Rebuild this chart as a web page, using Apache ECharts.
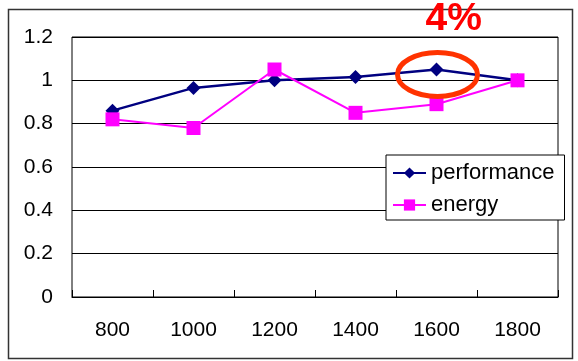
<!DOCTYPE html>
<html>
<head>
<meta charset="utf-8">
<script src="https://cdn.jsdelivr.net/npm/echarts@6/dist/echarts.min.js"></script>
<style>
  html, body { margin: 0; padding: 0; background: #fff; }
  #chart { width: 578px; height: 361px; }
</style>
</head>
<body>
<div id="chart"></div>
<script>
// Clock frequencies (MHz) on the x axis
const frequencies = ['800', '1000', '1200', '1400', '1600', '1800'];
// Normalised performance and energy at each frequency
const performance = [0.86, 0.965, 1.0, 1.015, 1.05, 1.0];
const energy = [0.82, 0.78, 1.05, 0.85, 0.89, 1.0];
// Callout text over the peak performance point
const calloutText = '4%';
const calloutIndex = 4;

const FONT = 'Liberation Sans, Arial, sans-serif';
const chart = echarts.init(document.getElementById('chart'), null, { renderer: 'canvas' });

chart.setOption({
  backgroundColor: '#fff',
  animation: false,
  grid: {
    left: 72, right: 20, top: 37, bottom: 64,
    show: true, borderColor: '#000', borderWidth: 1, backgroundColor: '#fff'
  },
  xAxis: {
    type: 'category',
    data: frequencies,
    boundaryGap: true,
    axisLine: { show: true, lineStyle: { color: '#000', width: 1 } },
    axisTick: { show: true, inside: true, length: 7, lineStyle: { color: '#000' } },
    axisLabel: { color: '#000', fontFamily: FONT, fontSize: 21, margin: 23 },
    splitLine: { show: false }
  },
  yAxis: {
    type: 'value',
    min: 0, max: 1.2, interval: 0.2,
    axisLine: { show: false },
    axisTick: { show: false },
    axisLabel: { color: '#000', fontFamily: FONT, fontSize: 21, margin: 19 },
    splitLine: { show: true, lineStyle: { color: '#000', width: 1 } }
  },
  legend: {
    orient: 'vertical',
    left: 386, top: 155,
    padding: [7, 10, 4, 6],
    backgroundColor: '#fff',
    borderColor: '#000', borderWidth: 1,
    itemWidth: 33, itemHeight: 14, itemGap: 10,
    textStyle: { color: '#000', fontFamily: FONT, fontSize: 22, lineHeight: 22 },
    data: ['performance', 'energy']
  },
  series: [
    {
      name: 'performance',
      type: 'line',
      data: performance,
      symbol: 'diamond', symbolSize: 14,
      lineStyle: { color: '#000080', width: 2.5 },
      itemStyle: { color: '#000080' },
      z: 2
    },
    {
      name: 'energy',
      type: 'line',
      data: energy,
      symbol: 'rect', symbolSize: 14,
      lineStyle: { color: '#ff00ff', width: 2 },
      itemStyle: { color: '#ff00ff' },
      z: 3
    }
  ]
});

// Outer frame plus the red ring and label around the highlighted point
const peak = chart.convertToPixel({ seriesIndex: 0 }, [calloutIndex, performance[calloutIndex]]);
chart.setOption({
  graphic: [
    {
      type: 'rect', silent: true, z: 0,
      shape: { x: 8.5, y: 9.5, width: 564, height: 349 },
      style: { fill: 'none', stroke: '#333', lineWidth: 1.5 }
    },
    {
      type: 'ellipse', silent: true, z: 100,
      shape: { cx: peak[0] + 1, cy: peak[1] + 5, rx: 40, ry: 22 },
      style: { fill: 'none', stroke: '#ff3300', lineWidth: 5 }
    },
    {
      type: 'text', silent: true, z: 100,
      style: {
        x: peak[0] - 11, y: 19,
        text: calloutText,
        fill: '#ff0000',
        font: 'bold 39px ' + FONT,
        textAlign: 'left', textVerticalAlign: 'middle'
      }
    }
  ]
});
</script>
</body>
</html>
